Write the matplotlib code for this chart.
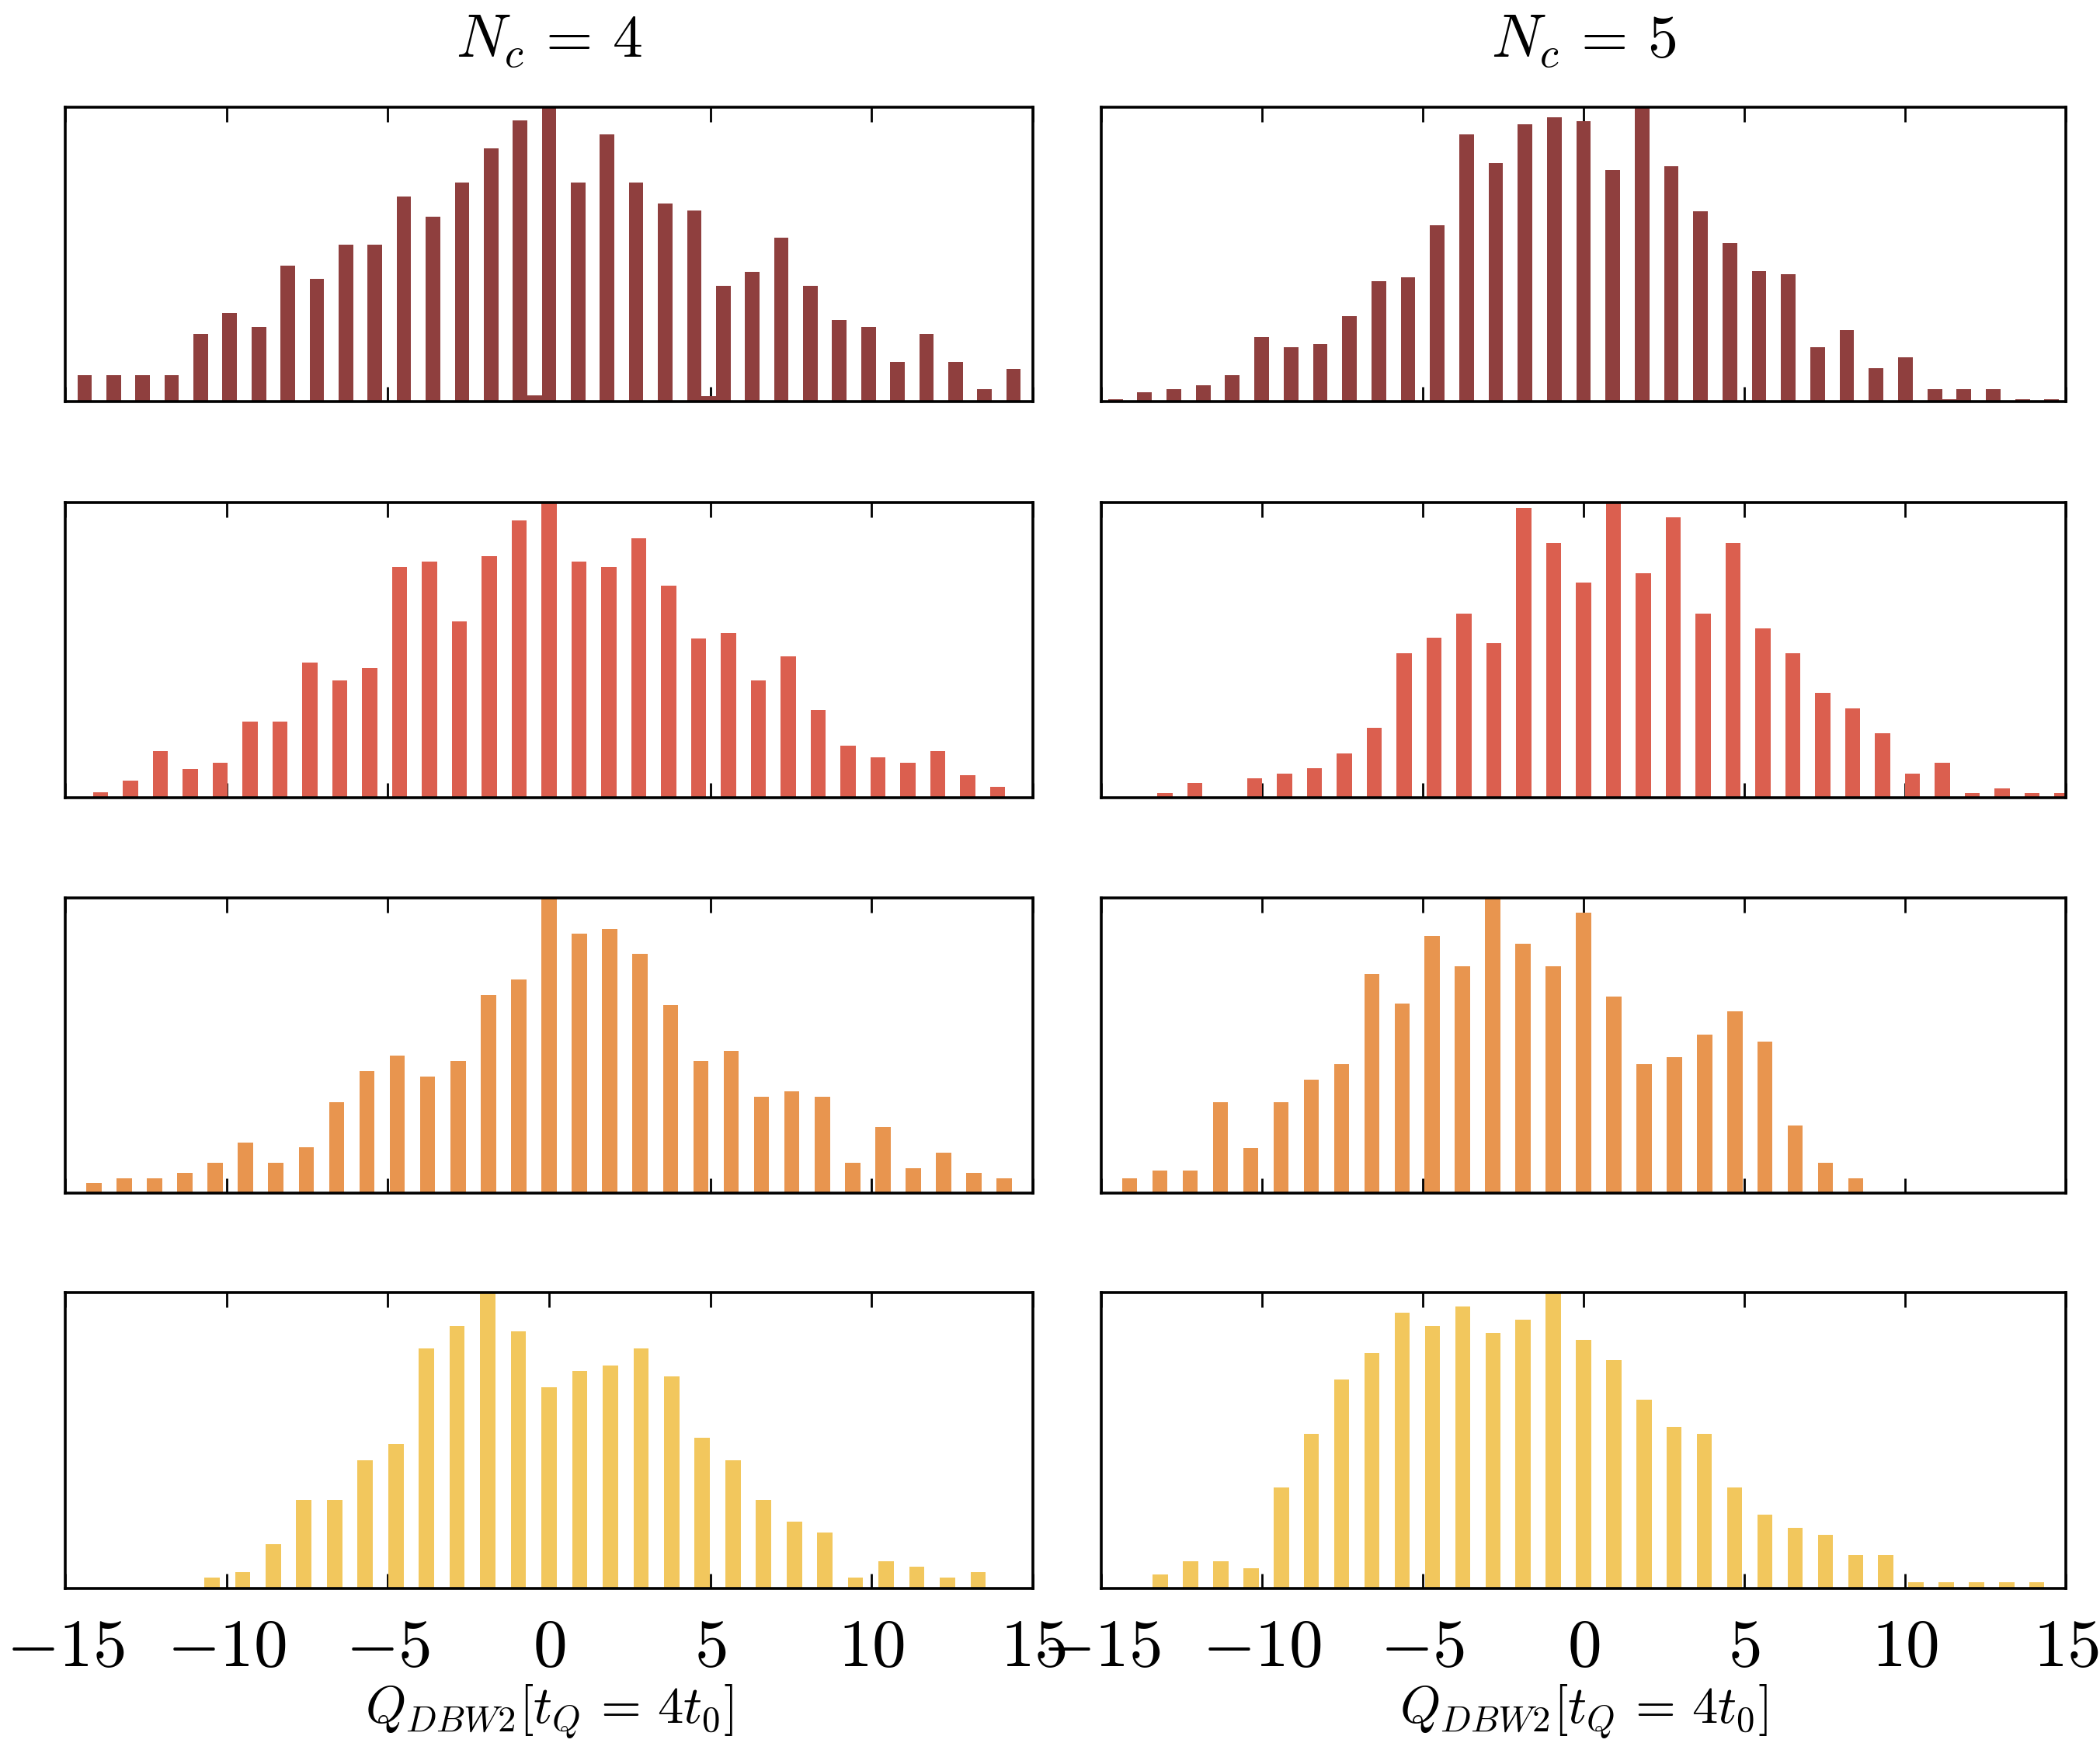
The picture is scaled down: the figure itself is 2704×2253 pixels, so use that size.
import matplotlib
matplotlib.use('Agg')
import matplotlib.pyplot as plt
import numpy as np

plt.rcParams['mathtext.fontset'] = 'cm'
plt.rcParams['font.family'] = 'DejaVu Serif'

# ---------------- data ----------------
titles = [r'$N_c\,=\,4$', r'$N_c\,=\,5$']
xticks = [-15, -10, -5, 0, 5, 10, 15]
xtick_labels = [r'$-15$', r'$-10$', r'$-5$', r'$0$', r'$5$', r'$10$', r'$15$']
xlabel = r'$Q_{DBW2}[t_Q\,=\,4t_0]$'
row_colors = ['#8F3F3E', '#DB5F4F', '#E8954F', '#F2C75D']

# bins are centred on k * q_step (k integer); occasional half-integer bins
# row 1
q_step_r1_nc4 = 0.90
k_first_r1_nc4 = -16
h_r1_nc4 = [8.9, 8.9, 8.9, 8.9, 23.0, 30.0, 25.2, 46.3, 41.6, 53.4, 53.4, 69.7,
            62.7, 74.3, 86.1, 95.4, 100.0, 74.3, 90.8, 74.3, 67.3, 65.0, 39.3,
            44.0, 55.6, 39.3, 27.6, 25.2, 13.5, 23.0, 13.5, 4.3, 11.2]
gap_k_r1_nc4 = [-0.5, 5.5]
gap_h_r1_nc4 = [2.1, 1.9]

q_step_r1_nc5 = 0.91
k_first_r1_nc5 = -16
h_r1_nc5 = [0.8, 3.1, 4.3, 5.5, 9.0, 22.0, 18.5, 19.6, 29.1, 40.9, 42.1, 59.8,
            90.7, 81.1, 94.2, 96.5, 95.3, 78.7, 100.0, 79.9, 64.6, 53.9, 44.4,
            43.3, 18.5, 24.4, 11.4, 15.0, 4.3, 4.3, 4.3, 0.8, 0.8]
gap_k_r1_nc5 = [12.5]
gap_h_r1_nc5 = [0.8]

# row 2
q_step_r2_nc4 = 0.927
k_first_r2_nc4 = -15
h_r2_nc4 = [1.8, 5.7, 15.7, 9.8, 11.8, 25.8, 25.8, 45.9, 39.8, 43.9, 78.1, 79.9,
            59.8, 81.9, 93.9, 100.0, 79.9, 78.1, 88.0, 71.9, 53.9, 55.9, 39.8,
            47.9, 29.8, 17.7, 13.8, 11.8, 15.7, 7.7, 3.8]
gap_k_r2_nc4 = []
gap_h_r2_nc4 = []

q_step_r2_nc5 = 0.93
k_first_r2_nc5 = -14
h_r2_nc5 = [1.5, 4.9, 0.0, 6.6, 8.2, 10.0, 15.1, 23.6, 48.9, 54.1, 62.5, 52.4,
            98.2, 86.4, 72.8, 100.0, 76.1, 94.9, 62.5, 86.4, 57.5, 48.9, 35.4,
            30.3, 21.8, 8.2, 11.8, 1.5, 3.2, 1.5, 1.5]
gap_k_r2_nc5 = []
gap_h_r2_nc5 = []

# row 3
q_step_r3_nc4 = 0.941
k_first_r3_nc4 = -15
h_r3_nc4 = [3.3, 5.1, 5.1, 6.8, 10.3, 17.2, 10.3, 15.4, 30.9, 41.3, 46.5, 39.6,
            44.8, 67.1, 72.4, 100.0, 87.9, 89.6, 81.0, 63.7, 44.8, 48.2, 32.7,
            34.4, 32.7, 10.3, 22.3, 8.5, 13.7, 6.8, 5.1]
gap_k_r3_nc4 = []
gap_h_r3_nc4 = []

q_step_r3_nc5 = 0.941
k_first_r3_nc5 = -15
h_r3_nc5 = [5.1, 7.6, 7.6, 30.7, 15.3, 30.7, 38.4, 43.6, 74.3, 64.1, 87.2, 76.9,
            100.0, 84.6, 76.9, 94.9, 66.6, 43.6, 46.1, 53.8, 61.5, 51.3, 22.9,
            10.2, 5.1]
gap_k_r3_nc5 = []
gap_h_r3_nc5 = []

# row 4
q_step_r4_nc4 = 0.95
k_first_r4_nc4 = -11
h_r4_nc4 = [3.7, 5.5, 15.0, 30.0, 30.0, 43.3, 48.9, 81.1, 88.6, 100.0, 86.8,
            67.9, 73.6, 75.4, 81.1, 71.6, 50.9, 43.3, 30.0, 22.5, 18.8, 3.7, 9.3,
            7.4, 3.7, 5.5]
gap_k_r4_nc4 = []
gap_h_r4_nc4 = []

q_step_r4_nc5 = 0.94
k_first_r4_nc5 = -14
h_r4_nc5 = [4.6, 9.1, 9.1, 6.8, 34.1, 52.3, 70.5, 79.6, 93.2, 88.6, 95.4, 86.3,
            90.9, 100.0, 84.1, 77.2, 63.7, 54.6, 52.3, 34.1, 25.0, 20.4, 18.1,
            11.4, 11.4, 2.2, 2.2, 2.2, 2.2, 2.2]
gap_k_r4_nc5 = []
gap_h_r4_nc5 = []

panels = [
    [(q_step_r1_nc4, k_first_r1_nc4, h_r1_nc4, gap_k_r1_nc4, gap_h_r1_nc4),
     (q_step_r1_nc5, k_first_r1_nc5, h_r1_nc5, gap_k_r1_nc5, gap_h_r1_nc5)],
    [(q_step_r2_nc4, k_first_r2_nc4, h_r2_nc4, gap_k_r2_nc4, gap_h_r2_nc4),
     (q_step_r2_nc5, k_first_r2_nc5, h_r2_nc5, gap_k_r2_nc5, gap_h_r2_nc5)],
    [(q_step_r3_nc4, k_first_r3_nc4, h_r3_nc4, gap_k_r3_nc4, gap_h_r3_nc4),
     (q_step_r3_nc5, k_first_r3_nc5, h_r3_nc5, gap_k_r3_nc5, gap_h_r3_nc5)],
    [(q_step_r4_nc4, k_first_r4_nc4, h_r4_nc4, gap_k_r4_nc4, gap_h_r4_nc4),
     (q_step_r4_nc5, k_first_r4_nc5, h_r4_nc5, gap_k_r4_nc5, gap_h_r4_nc5)],
]

# ---------------- layout ----------------
W, H = 2704, 2253
DPI = 200
fig = plt.figure(figsize=(W / DPI, H / DPI), dpi=DPI)

col_px = [(84, 1330), (1418, 2660)]
row_px = [(138, 517), (647, 1027), (1156, 1536), (1664, 2045)]

for r in range(4):
    for c in range(2):
        x0, x1 = col_px[c]
        y0, y1 = row_px[r]
        ax = fig.add_axes([x0 / W, 1 - y1 / H, (x1 - x0) / W, (y1 - y0) / H])
        q_step, k_first, heights, gk, gh = panels[r][c]
        ks = np.arange(k_first, k_first + len(heights))
        ax.bar(ks * q_step, heights, width=q_step / 2, color=row_colors[r],
               linewidth=0, zorder=2)
        if gk:
            ax.bar(np.array(gk) * q_step, gh, width=q_step / 2,
                   color=row_colors[r], linewidth=0, zorder=2)
        ax.set_xlim(-15, 15)
        ax.set_ylim(0, max(heights))
        ax.set_axisbelow(True)
        ax.set_yticks([])
        ax.set_xticks(xticks)
        ax.tick_params(axis='x', which='both', direction='in', top=True,
                       bottom=True, length=6.8, width=1.0, pad=12,
                       labelsize=31.5)
        if r == 3:
            ax.set_xticklabels(xtick_labels)
        else:
            ax.set_xticklabels([])
        for s in ax.spines.values():
            s.set_linewidth(1.3)
            s.set_zorder(3)
        if r == 3:
            fig.text((x0 + x1) / 2 / W, 1 - 2204 / H, xlabel, ha='center',
                     va='center', fontsize=24)
        if r == 0:
            fig.text((x0 + x1) / 2 / W, 1 - 52 / H, titles[c], ha='center',
                     va='center', fontsize=28)

fig.savefig('out.png', dpi=DPI)
